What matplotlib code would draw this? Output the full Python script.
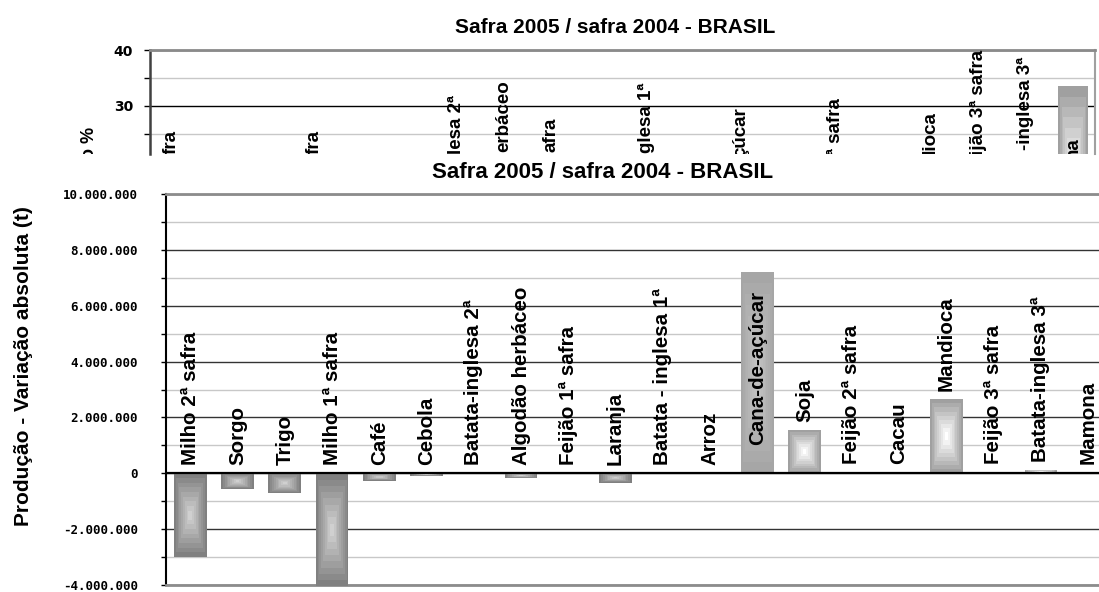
import numpy as np
import matplotlib.pyplot as plt
from matplotlib.colors import to_rgb
from matplotlib.transforms import Bbox, TransformedBbox
from matplotlib.ticker import FuncFormatter, MultipleLocator

plt.rcParams['font.family'] = ['Liberation Sans', 'DejaVu Sans']

W, H = 1099, 592

titulo = 'Safra 2005 / safra 2004 - BRASIL'
culturas = ['Milho 2ª safra', 'Sorgo', 'Trigo', 'Milho 1ª safra', 'Café', 'Cebola',
            'Batata-inglesa 2ª', 'Algodão herbáceo', 'Feijão 1ª safra', 'Laranja',
            'Batata - inglesa 1ª', 'Arroz', 'Cana-de-açúcar', 'Soja', 'Feijão 2ª safra',
            'Cacau', 'Mandioca', 'Feijão 3ª safra', 'Batata-inglesa 3ª', 'Mamona']

# variacao absoluta (t), chart in front
variacao_abs = [-3.00e6, -0.57e6, -0.71e6, -4.05e6, -0.26e6, -0.09e6, 0.0, -0.16e6,
                0.0, -0.33e6, 0.0, 0.0, 7.22e6, 1.55e6, 0.05e6, 0.04e6, 2.65e6,
                0.05e6, 0.12e6, 0.05e6]

# variacao % chart behind it, cut off by the chart in front:
# only Mamona's bar and the ends of some labels can be seen
variacao_pct = [None] * 19 + [33.5]
pct_rotulos = ['fra', None, None, 'fra', None, None, 'lesa 2ª', 'erbáceo', 'afra', None,
               'glesa 1ª', None, 'çúcar', None, 'ª safra', None, 'dioca',
               'ijão 3ª safra', '-inglesa 3ª', 'na']
# where those labels end (in %)
pct_rotulo_fim = [25.6, None, None, 25.6, None, None, 31.9, 34.6, 27.8, None,
                  34.1, None, 29.8, None, 31.4, None, 28.9, 40.0, 38.7, 24.4]


def grad_bar(ax, x, v, w, c_out, c_in, n=9):
    # excel style "from center" gradient, drawn as nested bars
    c_out, c_in = np.array(to_rgb(c_out)), np.array(to_rgb(c_in))
    for k in range(n):
        f = k / n
        c = c_out + (c_in - c_out) * k / (n - 1)
        ax.bar(x, v * (1 - f), width=w * (1 - f), bottom=v * f / 2,
               color=c, linewidth=0, zorder=3, clip_on=(k > 0 or abs(v) < 4e6))


fig = plt.figure(figsize=(W / 100, H / 100), dpi=100)

# ---- chart behind (%), cut off by the chart in front at y=154px
ax1 = fig.add_axes([150 / W, 1 - 154 / H, 945 / W, 104 / H])
ax1.set_xlim(-0.45, 19.46)
ax1.set_ylim(30 - 48.3 / 5.57, 40)
ax1.yaxis.set_major_locator(MultipleLocator(10))
ax1.yaxis.set_minor_locator(MultipleLocator(5))
ax1.set_xticks([])
ax1.grid(axis='y', which='major', color='black', lw=1)
ax1.grid(axis='y', which='minor', color='#c8c8c8', lw=1)
ax1.set_axisbelow(True)
ax1.spines['bottom'].set_visible(False)
ax1.spines['left'].set_color('#404040')
ax1.spines['left'].set_linewidth(1.8)
ax1.spines['top'].set_color('#8a8a8a')
ax1.spines['top'].set_linewidth(2)
ax1.spines['right'].set_color('#a0a0a0')
ax1.spines['right'].set_linewidth(1.5)
ax1.tick_params(axis='y', which='both', direction='out', length=4.3, width=1, pad=8)
for t in ax1.get_yticklabels():
    t.set_fontfamily('DejaVu Sans')
    t.set_fontweight('bold')
    t.set_fontsize(10)

for i, p in enumerate(variacao_pct):
    if p is not None:
        grad_bar(ax1, i, p, 0.63, '#a0a0a0', '#ffffff')
for i, t in enumerate(pct_rotulo_fim):
    if t is not None:
        ax1.text(i, t, pct_rotulos[i], rotation=90, ha='center', va='top',
                 fontsize=13.5, fontweight='bold', zorder=5, clip_on=True)

visivel = TransformedBbox(Bbox.from_extents(0, 1 - 154 / H, 1, 1), fig.transFigure)
yl = fig.text(90 / W, 1 - 127 / H, 'ção %', rotation=90, ha='center',
              va='top', fontsize=13, fontweight='bold')
yl.set_clip_box(visivel)
yl.set_clip_on(True)
fig.text(615 / W, 1 - 33 / H, titulo, ha='center', va='baseline', fontsize=15,
         fontweight='bold')

# ---- chart in front (t)
ax2 = fig.add_axes([165.7 / W, 1 - 585 / H, 1 - 165.7 / W, 391 / H])
ax2.set_xlim(-0.52, 19.23)
ax2.set_ylim(-4e6, 10e6)
ax2.yaxis.set_major_locator(MultipleLocator(2e6))
ax2.yaxis.set_minor_locator(MultipleLocator(1e6))
ax2.yaxis.set_major_formatter(FuncFormatter(lambda v, p: f'{v:,.0f}'.replace(',', '.')))
ax2.set_xticks([])
ax2.grid(axis='y', which='major', color='#333333', lw=1)
ax2.grid(axis='y', which='minor', color='#c8c8c8', lw=1)
ax2.set_axisbelow(True)
ax2.spines['right'].set_visible(False)
ax2.spines['left'].set_color('black')
ax2.spines['left'].set_linewidth(1.5)
for s in ['top', 'bottom']:
    ax2.spines[s].set_color('#8c8c8c')
    ax2.spines[s].set_linewidth(2)
ax2.tick_params(axis='y', which='both', direction='out', length=3.6, width=1, pad=16.5)
for t in ax2.get_yticklabels():
    t.set_fontfamily('DejaVu Sans Mono')
    t.set_fontweight('bold')
    t.set_fontsize(9)

for i, v in enumerate(variacao_abs):
    if v < 0:
        grad_bar(ax2, i, v, 0.69, '#808080', '#d0d0d0')
    elif v > 6e6:
        grad_bar(ax2, i, v, 0.69, '#a6a6a6', '#c4c4c4')
    elif v > 0:
        grad_bar(ax2, i, v, 0.69, '#a0a0a0', '#ffffff')

ax2.axhline(0, color='black', lw=1.6, zorder=4)

for i, v in enumerate(variacao_abs):
    if v > 6e6:
        # too tall: label goes inside the bar end
        ax2.annotate(culturas[i], (i, v), xytext=(0, -14), textcoords='offset points',
                     rotation=90, ha='center', va='top', fontsize=14.8, fontweight='bold', zorder=5)
    else:
        ax2.annotate(culturas[i], (i, max(v, 0)), xytext=(0, 6), textcoords='offset points',
                     rotation=90, ha='center', va='bottom', fontsize=14.8, fontweight='bold', zorder=5)

fig.text(603 / W, 1 - 178 / H, titulo, ha='center', va='baseline', fontsize=16,
         fontweight='bold')
fig.text(23.5 / W, 1 - 366 / H, 'Produção - Variação absoluta (t)', rotation=90,
         ha='center', va='center', fontsize=15, fontweight='bold')

fig.savefig('out.png', dpi=100)
